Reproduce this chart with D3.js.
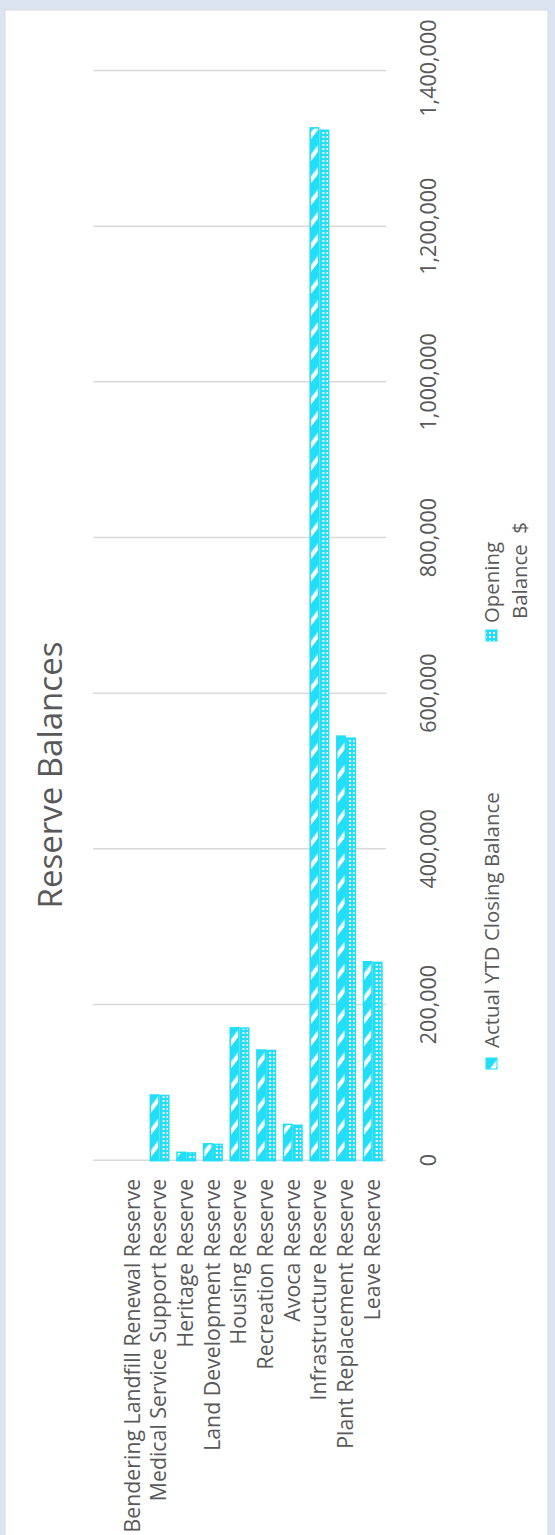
<!DOCTYPE html>
<html>
<head>
<meta charset="utf-8">
<script src="https://cdn.jsdelivr.net/npm/d3@7"></script>
<style>
  body { margin: 0; background: #dce5ef; }
  svg { display: block; }
  text { font-family: "Open Sans", sans-serif; fill: #595959; }
</style>
</head>
<body>
<svg id="chart" width="555" height="1535"></svg>
<script>
// categories top to bottom (first slot is an empty row in the source sheet)
const categories = ["", "Bendering Landfill Renewal Reserve", "Medical Service Support Reserve",
  "Heritage Reserve", "Land Development Reserve", "Housing Reserve", "Recreation Reserve",
  "Avoca Reserve", "Infrastructure Reserve", "Plant Replacement Reserve", "Leave Reserve"];
const seriesNames = ["Actual YTD Closing Balance", "Opening Balance  $"];
const actualYTD      = [null, 0, 84400, 10800, 21800, 170800, 142200, 46700, 1326900, 545500, 255600];
const openingBalance = [null, 0, 83800, 10000, 21000, 170400, 141600, 45500, 1323900, 542900, 254800];
const valueTicks = [0, 200000, 400000, 600000, 800000, 1000000, 1200000, 1400000];
const titleText = "Reserve Balances";

const CYAN = "#22def8";
const SW = 555, SH = 1535;           // screen size
// the chart is drawn as a normal bar chart, then turned -90deg

const svg = d3.select("#chart");

// page panel
svg.append("rect")
  .attr("x", 5).attr("y", 10).attr("width", 543).attr("height", 1530)
  .attr("fill", "#fff").attr("stroke", "#d3dbe4");

// patterns
const defs = svg.append("defs");
const stripe = defs.append("pattern")
  .attr("id", "stripe")
  .attr("patternUnits", "userSpaceOnUse")
  .attr("width", 13.5).attr("height", 16)
  .attr("patternTransform", "rotate(-52.4)");
stripe.append("rect").attr("width", 13.5).attr("height", 16).attr("fill", CYAN);
stripe.append("rect").attr("x", 0).attr("width", 4.2).attr("height", 16).attr("fill", "#fff");

const dots = defs.append("pattern")
  .attr("id", "dots")
  .attr("patternUnits", "userSpaceOnUse")
  .attr("width", 4).attr("height", 4);
dots.append("rect").attr("width", 4).attr("height", 4).attr("fill", CYAN);
dots.append("rect").attr("x", 1).attr("y", 1).attr("width", 2).attr("height", 2).attr("fill", "#fff");

const fills = ["url(#stripe)", "url(#dots)"];
const seriesData = [actualYTD, openingBalance];

const g = svg.append("g")
  .attr("transform", "translate(0," + SH + ") rotate(-90)");

const PLOT = { left: 374.3, right: 1464, top: 93, bottom: 386 };

const x = d3.scaleLinear()
  .domain([0, 1400000])
  .range([PLOT.left, PLOT.right]);

const y0 = d3.scaleBand()
  .domain(categories)
  .range([PLOT.top, PLOT.bottom])
  .paddingInner(0.25)
  .paddingOuter(0.125);

const y1 = d3.scaleBand()
  .domain(seriesNames)
  .range([0, y0.bandwidth()]);

// grid + value labels
const xAxis = d3.axisBottom(x)
  .tickValues(valueTicks)
  .tickSize(-(PLOT.bottom - PLOT.top))
  .tickPadding(35)
  .tickFormat(d3.format(","));

const gx = g.append("g")
  .attr("transform", "translate(0," + PLOT.bottom + ")")
  .call(xAxis);
gx.select(".domain").remove();
gx.selectAll(".tick line").attr("stroke", "#d9d9d9").attr("stroke-width", 1.5);
gx.selectAll(".tick text")
  .attr("fill", "#595959")
  .style("font-size", "21.5px")
  .style("font-family", "'Open Sans', sans-serif");

// the last label is kept inside the chart area, like the spreadsheet does
gx.selectAll(".tick text")
  .filter(d => d === valueTicks[valueTicks.length - 1])
  .attr("text-anchor", "end")
  .attr("x", (SH - 20) - x(valueTicks[valueTicks.length - 1]));

// category labels
const yAxis = d3.axisLeft(y0).tickSize(0).tickPadding(18);
const gy = g.append("g")
  .attr("transform", "translate(" + PLOT.left + ",0)")
  .call(yAxis);
gy.select(".domain").remove();
gy.selectAll(".tick text")
  .attr("fill", "#595959")
  .style("font-size", "21.3px")
  .style("font-family", "'Open Sans', sans-serif");

// bars
const rows = categories.map((c, i) => ({ cat: c, vals: seriesNames.map((s, k) => ({ s: s, k: k, v: seriesData[k][i] })) }));

const grp = g.append("g").selectAll("g")
  .data(rows.filter(r => r.vals.some(d => d.v)))
  .join("g")
  .attr("transform", d => "translate(0," + y0(d.cat) + ")");

grp.selectAll("rect")
  .data(d => d.vals.filter(v => v.v))
  .join("rect")
  .attr("x", x(0))
  .attr("y", d => y1(d.s) + 0.75)
  .attr("width", d => x(d.v) - x(0))
  .attr("height", y1.bandwidth() - 1.5)
  .attr("fill", d => fills[d.k])
  .attr("stroke", CYAN)
  .attr("stroke-width", 1.5);

// title
g.append("text")
  .attr("x", 760)
  .attr("y", 62)
  .attr("text-anchor", "middle")
  .style("font-size", "33px")
  .text(titleText);

// legend
const leg0 = g.append("g");
leg0.append("rect")
  .attr("x", 466).attr("y", 486).attr("width", 11).attr("height", 11)
  .attr("fill", fills[0]).attr("stroke", CYAN).attr("stroke-width", 1);
leg0.append("text")
  .attr("x", 487).attr("y", 499)
  .style("font-size", "20.4px")
  .text(seriesNames[0]);

const leg1 = g.append("g");
leg1.append("rect")
  .attr("x", 894).attr("y", 486).attr("width", 11).attr("height", 11)
  .attr("fill", fills[1]).attr("stroke", CYAN).attr("stroke-width", 1);
const sp = seriesNames[1].indexOf(" ");
const legLines = [seriesNames[1].slice(0, sp), seriesNames[1].slice(sp + 1)];
leg1.append("text")
  .attr("x", 912).attr("y", 499)
  .style("font-size", "20.4px")
  .style("white-space", "pre")
  .selectAll("tspan")
  .data(legLines)
  .join("tspan")
  .attr("x", (d, i) => i ? 916 : 912)
  .attr("dy", (d, i) => i ? 28 : 0)
  .text(d => d);
</script>
</body>
</html>
